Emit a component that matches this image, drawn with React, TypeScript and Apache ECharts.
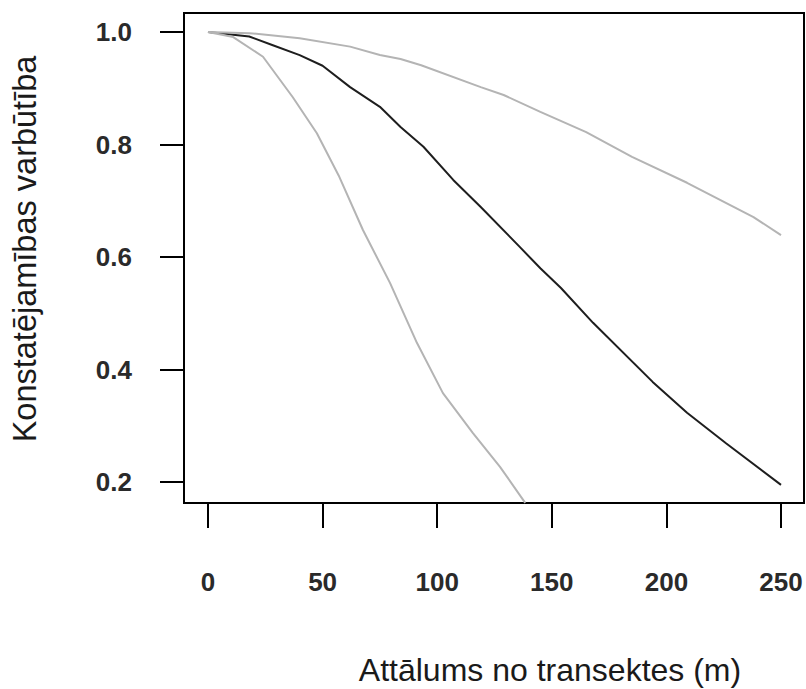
import React, { useEffect, useRef } from "react";
import * as echarts from "echarts";

// Detection probability against distance from the transect line
const fitDist = [0, 9, 18, 28, 40, 50, 62, 75, 84, 94, 107, 119, 136, 145, 154, 168, 194, 209, 226, 250];
const fitProb = [1.0, 0.996, 0.992, 0.977, 0.959, 0.94, 0.902, 0.867, 0.831, 0.796, 0.737, 0.689, 0.618, 0.58, 0.545, 0.483, 0.378, 0.323, 0.269, 0.195];

const upperDist = [0, 18, 40, 62, 75, 84, 93, 119, 129, 145, 165, 185, 209, 238, 250];
const upperProb = [1.0, 0.998, 0.989, 0.974, 0.959, 0.952, 0.941, 0.902, 0.888, 0.858, 0.822, 0.778, 0.732, 0.671, 0.639];

const lowerDist = [0, 11, 24, 37, 47.5, 57, 67.6, 79.4, 91.2, 102.5, 115.6, 127.4, 138.4];
const lowerProb = [1.0, 0.991, 0.956, 0.884, 0.82, 0.745, 0.648, 0.554, 0.447, 0.358, 0.287, 0.227, 0.163];

const xTicks = [0, 50, 100, 150, 200, 250];
const yTicks = [0.2, 0.4, 0.6, 0.8, 1.0];

const xTitle = "Attālums no transektes (m)";
const yTitle = "Konstatējamības varbūtība";

const zip = (xs: number[], ys: number[]) => xs.map((x, i) => [x, ys[i]]);

const FONT = "'Liberation Sans', Arial, sans-serif";

export default function App() {
  const ref = useRef<HTMLDivElement>(null);

  useEffect(() => {
    if (!ref.current) return;
    const chart = echarts.init(ref.current, null, { renderer: "svg" });
    const tickStyle = { color: "#000", width: 2 };
    const labelStyle = {
      color: "#2a2a2a",
      fontSize: 26,
      fontWeight: "bold" as const,
      fontFamily: FONT,
    };
    chart.setOption({
      animation: false,
      backgroundColor: "#fff",
      grid: {
        left: 184,
        right: 2,
        top: 13,
        bottom: 186,
        show: true,
        borderColor: "#000",
        borderWidth: 2,
        backgroundColor: "transparent",
      },
      xAxis: {
        type: "value",
        min: -10.47,
        max: 260.03,
        axisLine: { show: true, onZero: false, lineStyle: tickStyle },
        axisTick: { show: true, length: 25, customValues: xTicks, lineStyle: tickStyle },
        axisLabel: {
          ...labelStyle,
          margin: 66,
          customValues: xTicks,
          formatter: (v: number) => String(v),
        },
        splitLine: { show: false },
      },
      yAxis: {
        type: "value",
        min: 0.1627,
        max: 1.0338,
        axisLine: { show: true, onZero: false, lineStyle: tickStyle },
        axisTick: { show: true, length: 24, customValues: yTicks, lineStyle: tickStyle },
        axisLabel: {
          ...labelStyle,
          margin: 52,
          customValues: yTicks,
          formatter: (v: number) => v.toFixed(1),
        },
        splitLine: { show: false },
      },
      series: [
        {
          type: "line",
          data: zip(fitDist, fitProb),
          showSymbol: false,
          lineStyle: { color: "#1e1e1e", width: 2 },
          clip: true,
          z: 2,
        },
        {
          type: "line",
          data: zip(upperDist, upperProb),
          showSymbol: false,
          lineStyle: { color: "#b4b4b4", width: 2 },
          clip: true,
          z: 3,
        },
        {
          type: "line",
          data: zip(lowerDist, lowerProb),
          showSymbol: false,
          lineStyle: { color: "#b4b4b4", width: 2 },
          clip: true,
          z: 3,
        },
      ],
      graphic: [
        {
          type: "text",
          x: 550,
          y: 670,
          style: {
            text: xTitle,
            font: `32px ${FONT}`,
            fill: "#1a1a1a",
            textAlign: "center",
            textVerticalAlign: "middle",
          },
        },
        {
          type: "text",
          x: 25,
          y: 249,
          rotation: Math.PI / 2,
          style: {
            text: yTitle,
            font: `32.5px ${FONT}`,
            fill: "#1a1a1a",
            textAlign: "center",
            textVerticalAlign: "middle",
          },
        },
      ],
    });
    return () => chart.dispose();
  }, []);

  return (
    <div
      ref={ref}
      style={{ position: "fixed", left: 0, top: 0, width: 806, height: 689, background: "#fff" }}
    />
  );
}
